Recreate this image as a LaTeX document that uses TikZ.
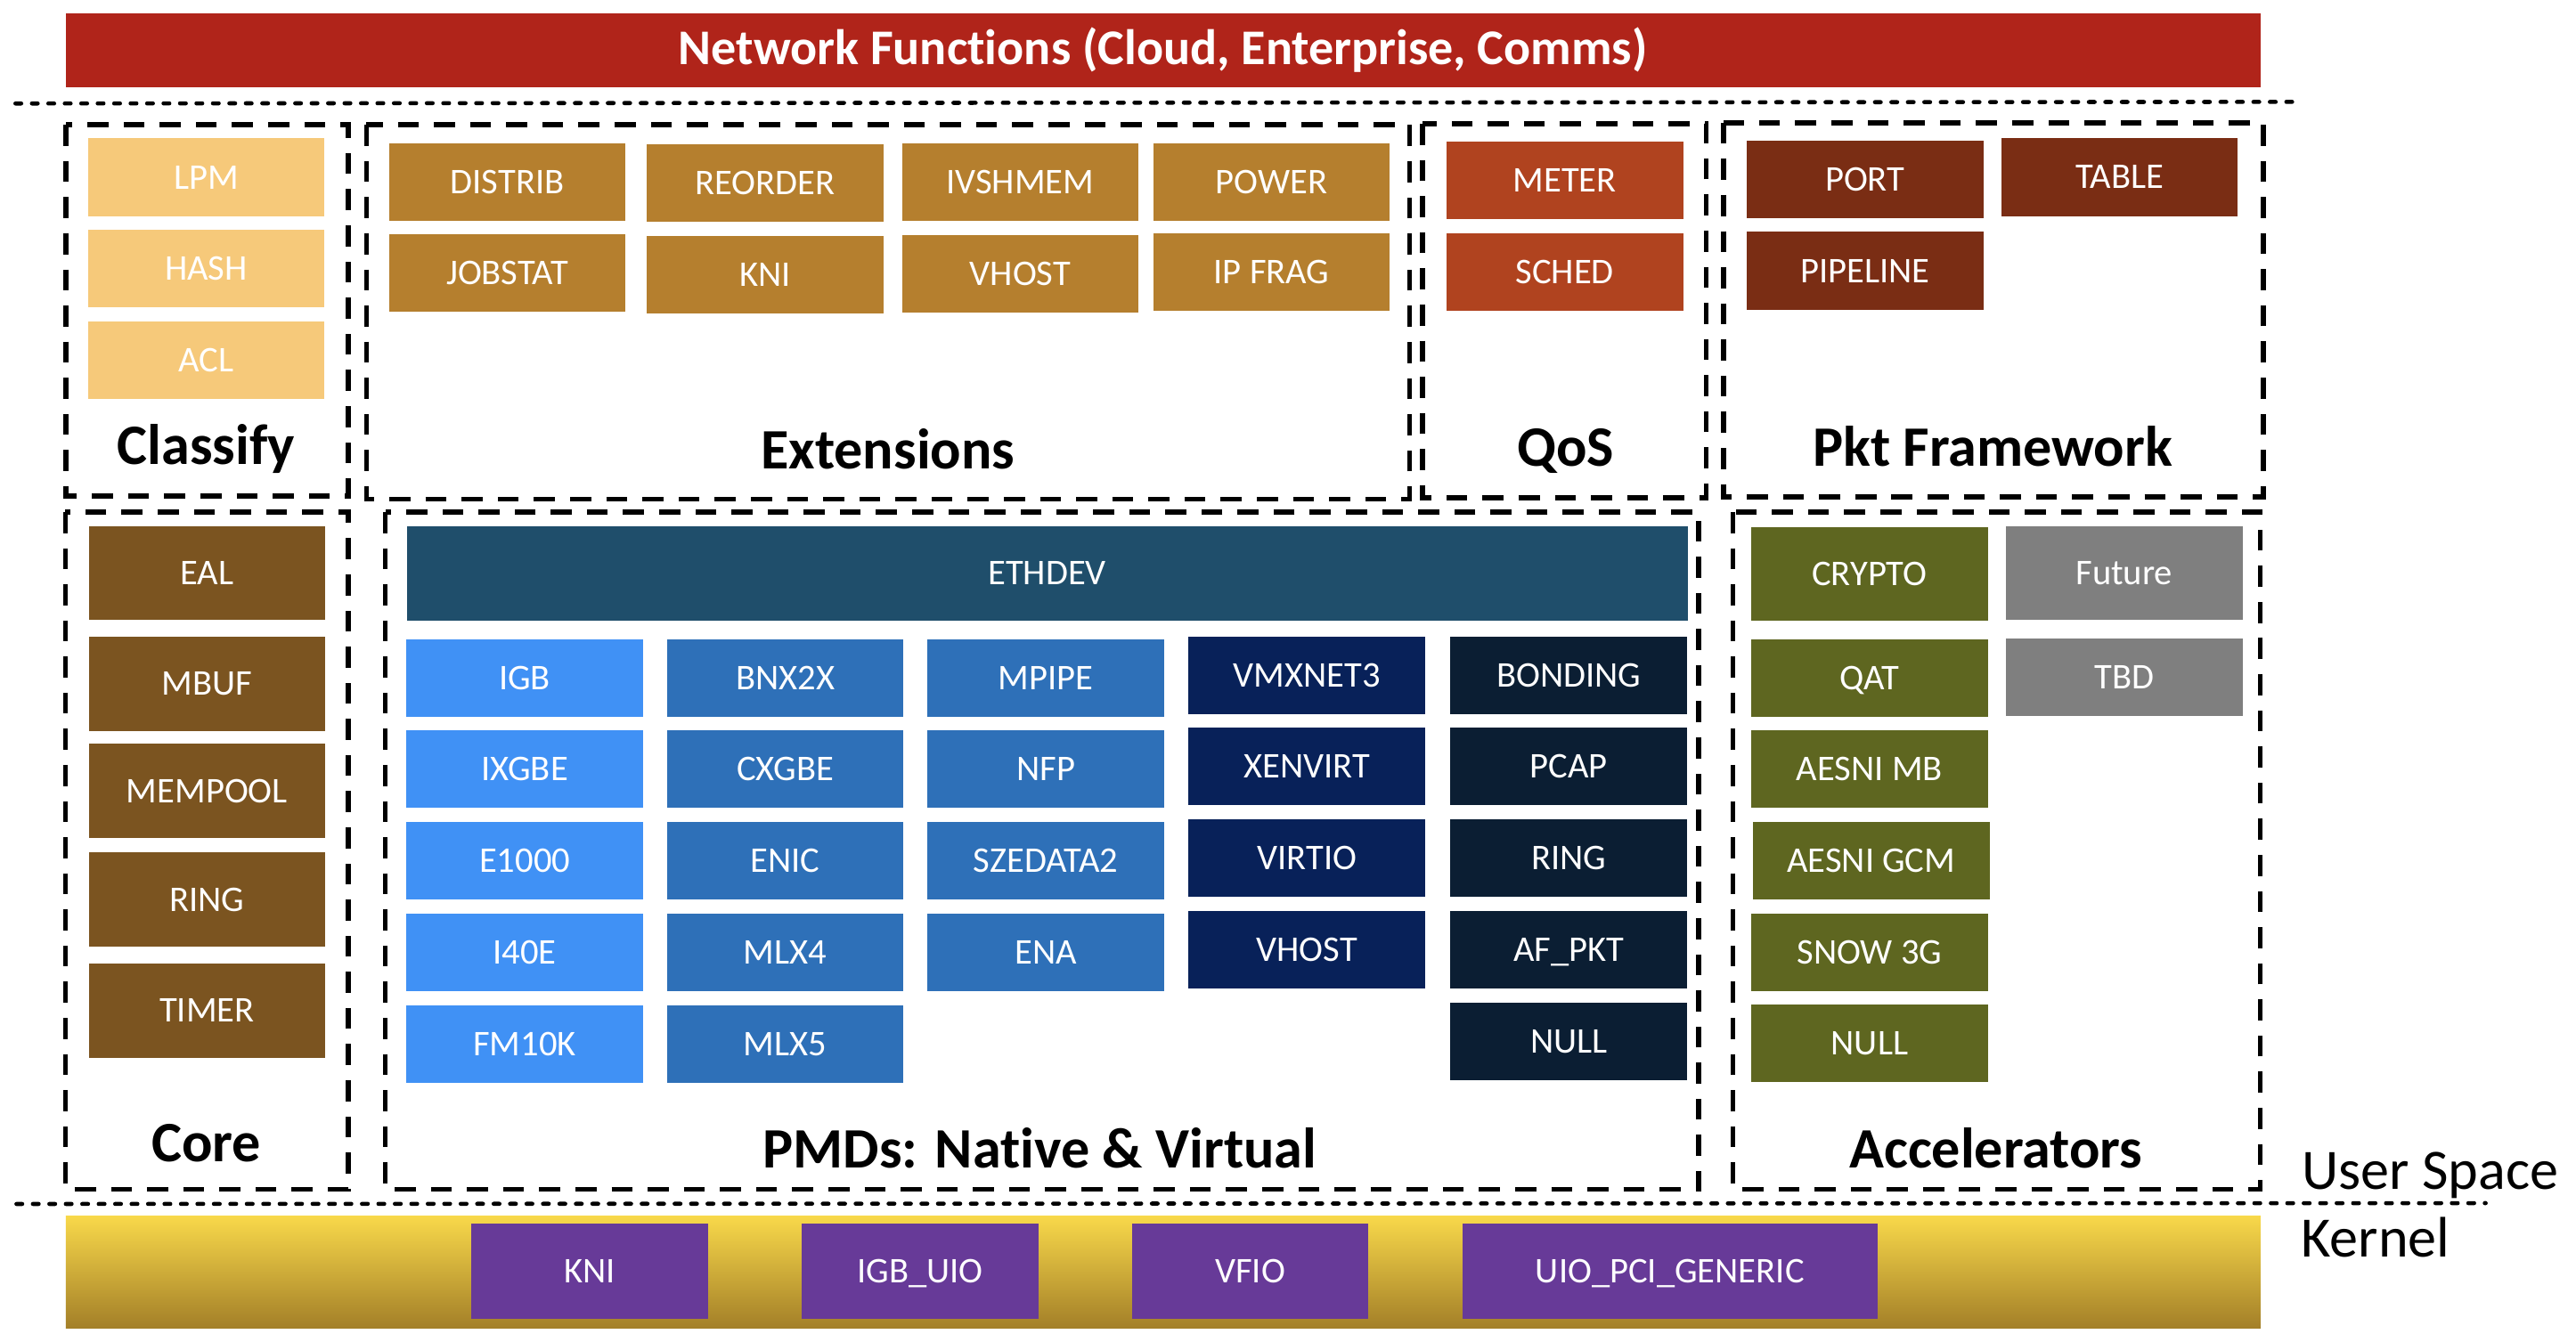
\documentclass[tikz,border=0pt]{standalone}
\usepackage{fontspec}
\setmainfont[Ligatures=NoCommon]{Carlito}

\definecolor{netred}{RGB}{176,36,26}
\definecolor{lpmcol}{RGB}{246,201,122}
\definecolor{extcol}{RGB}{181,127,46}
\definecolor{qoscol}{RGB}{176,67,31}
\definecolor{pktcol}{RGB}{122,45,20}
\definecolor{corecol}{RGB}{123,84,32}
\definecolor{ethcol}{RGB}{31,78,107}
\definecolor{nicA}{RGB}{64,145,245}
\definecolor{nicB}{RGB}{46,112,184}
\definecolor{virtcol}{RGB}{8,33,89}
\definecolor{swcol}{RGB}{11,30,51}
\definecolor{acccol}{RGB}{94,102,32}
\definecolor{futcol}{RGB}{127,127,127}
\definecolor{kntop}{RGB}{248,216,74}
\definecolor{knbot}{RGB}{163,127,40}
\definecolor{kmodcol}{RGB}{103,58,152}

\newcommand{\boxfont}{\fontsize{6.26pt}{7.5pt}\selectfont}
\newcommand{\titlefont}{\fontsize{8.65pt}{10pt}\selectfont\bfseries}
\newcommand{\grpfont}{\fontsize{9.9pt}{12pt}\selectfont\bfseries}
\newcommand{\sidefont}{\fontsize{9.9pt}{12pt}\selectfont}

\tikzset{
  blk/.style={fill=#1, text=white, inner sep=0pt, minimum width=14.4mm,
    minimum height=4.72mm, text height=4.03pt, text depth=0pt, font=\boxfont},
  tall/.style={minimum height=5.73mm},
  grp/.style={line width=0.85pt, dash pattern=on 3.64pt off 2.62pt},
  sepline/.style={line width=0.71pt, line cap=round, dash pattern=on 1pt off 1.85pt},
  grplabel/.style={font=\grpfont, anchor=base}
}

\begin{document}
\begin{tikzpicture}[x=0.1mm, y=-0.1mm, line join=miter]
  \useasboundingbox (0,0) rectangle (1568,812);

  % top bar
  \node[fill=netred, text=white, inner sep=0pt, minimum width=133.6mm,
    minimum height=4.5mm, font=\titlefont] (netfn) at (708,30.5)
    {Network Functions (Cloud, Enterprise, Comms)};
  \draw[sepline] (9.4,63) -- (1398,62);

  % group frames
  \draw[grp] (40,76) rectangle (212,302);
  \draw[grp] (223,76) rectangle (858,304);
  \draw[grp] (866,75.4) rectangle (1038.6,303);
  \draw[grp] (1049,74.7) rectangle (1377.6,302.4);
  \draw[grp] (39.8,311.7) rectangle (212,724);
  \draw[grp] (234.5,311.7) rectangle (1034,724);
  \draw[grp] (1054.8,311.7) rectangle (1375.8,724);

  % Classify
  \node[blk=lpmcol, minimum height=4.75mm] (lpm) at (125.5,108) {LPM};
  \node[blk=lpmcol, minimum height=4.75mm] (hash) at (125.5,163.5) {HASH};
  \node[blk=lpmcol, minimum height=4.75mm] (acl) at (125.5,219.4) {ACL};
  \node[grplabel] (classifylbl) at (125.5,283) {Classify};

  % Extensions
  \node[blk=extcol] (distrib) at (308.8,110.8) {DISTRIB};
  \node[blk=extcol] (reorder) at (465.8,111.2) {REORDER};
  \node[blk=extcol] (ivshmem) at (621,110.8) {IVSHMEM};
  \node[blk=extcol] (power) at (774,110.8) {POWER};
  \node[blk=extcol] (jobstat) at (308.8,166.3) {JOBSTAT};
  \node[blk=extcol] (extkni) at (465.8,167) {KNI};
  \node[blk=extcol] (extvhost) at (621,166.5) {VHOST};
  \node[blk=extcol] (ipfrag) at (774,165.8) {IP FRAG};
  \node[grplabel] (extlbl) at (540.5,285.5) {Extensions};

  % QoS
  \node[blk=qoscol] (meter) at (952.5,109.6) {METER};
  \node[blk=qoscol] (sched) at (952.5,165.5) {SCHED};
  \node[grplabel] (qoslbl) at (953,284) {QoS};

  % Pkt Framework
  \node[blk=pktcol, minimum height=4.75mm] (port) at (1135.2,109.2) {PORT};
  \node[blk=pktcol, minimum height=4.75mm] (table) at (1290.2,107.8) {TABLE};
  \node[blk=pktcol, minimum height=4.75mm] (pipeline) at (1135.2,164.8) {PIPELINE};
  \node[grplabel] (pktlbl) at (1213,284) {Pkt Framework};

  % Core
  \node[blk=corecol, tall] (eal) at (126,348.9) {EAL};
  \node[blk=corecol, tall] (mbuf) at (126,416.2) {MBUF};
  \node[blk=corecol, tall] (mempool) at (126,481.6) {MEMPOOL};
  \node[blk=corecol, tall] (ring) at (126,547.7) {RING};
  \node[blk=corecol, tall] (timer) at (126,615.3) {TIMER};
  \node[grplabel] (corelbl) at (125.6,707) {Core};

  % PMDs
  \node[blk=ethcol, tall, minimum width=77.96mm] (ethdev) at (637.4,349) {ETHDEV};
  \node[blk=nicA] (igb) at (319.4,412.7) {IGB};
  \node[blk=nicA] (ixgbe) at (319.4,468.3) {IXGBE};
  \node[blk=nicA] (e1000) at (319.4,524.1) {E1000};
  \node[blk=nicA] (i40e) at (319.4,579.7) {I40E};
  \node[blk=nicA] (fm10k) at (319.4,635.5) {FM10K};
  \node[blk=nicB] (bnx2x) at (478,412.7) {BNX2X};
  \node[blk=nicB] (cxgbe) at (478,468.3) {CXGBE};
  \node[blk=nicB] (enic) at (478,524.1) {ENIC};
  \node[blk=nicB] (mlx4) at (478,579.7) {MLX4};
  \node[blk=nicB] (mlx5) at (478,635.5) {MLX5};
  \node[blk=nicB] (mpipe) at (636.6,412.7) {MPIPE};
  \node[blk=nicB] (nfp) at (636.6,468.3) {NFP};
  \node[blk=nicB] (szedata2) at (636.6,524.1) {SZEDATA2};
  \node[blk=nicB] (ena) at (636.6,579.7) {ENA};
  \node[blk=virtcol] (vmxnet3) at (795.5,411.1) {VMXNET3};
  \node[blk=virtcol] (xenvirt) at (795.5,466.7) {XENVIRT};
  \node[blk=virtcol] (virtio) at (795.5,522.5) {VIRTIO};
  \node[blk=virtcol] (vhost) at (795.5,578.1) {VHOST};
  \node[blk=swcol] (bonding) at (954.9,411.1) {BONDING};
  \node[blk=swcol] (pcap) at (954.9,466.7) {PCAP};
  \node[blk=swcol] (swring) at (954.9,522.5) {RING};
  \node[blk=swcol] (afpkt) at (954.9,578.1) {AF\_PKT};
  \node[blk=swcol] (swnull) at (954.9,633.9) {NULL};
  \node[grplabel] (pmdlbl) at (633,711) {PMDs: Native \& Virtual};

  % Accelerators
  \node[blk=acccol, tall] (crypto) at (1138,349.4) {CRYPTO};
  \node[blk=futcol, tall] (future) at (1293,348.9) {Future};
  \node[blk=acccol] (qat) at (1138,412.7) {QAT};
  \node[blk=futcol] (tbd) at (1293,412.4) {TBD};
  \node[blk=acccol] (aesmb) at (1138,468.3) {AESNI MB};
  \node[blk=acccol] (aesgcm) at (1139,524.1) {AESNI GCM};
  \node[blk=acccol] (snow) at (1138,579.7) {SNOW 3G};
  \node[blk=acccol] (accnull) at (1138,635) {NULL};
  \node[grplabel] (acclbl) at (1215,711) {Accelerators};

  % user space / kernel split
  \node[font=\sidefont, anchor=base west, inner sep=0pt] (userlbl) at (1400.5,724) {User Space};
  \draw[sepline] (10,733) -- (1513,732.5);
  \node[font=\sidefont, anchor=base west, inner sep=0pt] (kernlbl) at (1400,765.4) {Kernel};

  % kernel modules
  \shade[top color=kntop, bottom color=knbot] (40,740.6) rectangle (1376,808.8);
  \node[blk=kmodcol, minimum height=5.8mm] (kkni) at (359,774) {KNI};
  \node[blk=kmodcol, minimum height=5.8mm] (igbuio) at (560,774) {IGB\_UIO};
  \node[blk=kmodcol, minimum height=5.8mm] (vfio) at (761,774) {VFIO};
  \node[blk=kmodcol, minimum height=5.8mm, minimum width=25.3mm] (uiopci) at (1016.5,774) {UIO\_PCI\_GENERIC};
\end{tikzpicture}
\end{document}
